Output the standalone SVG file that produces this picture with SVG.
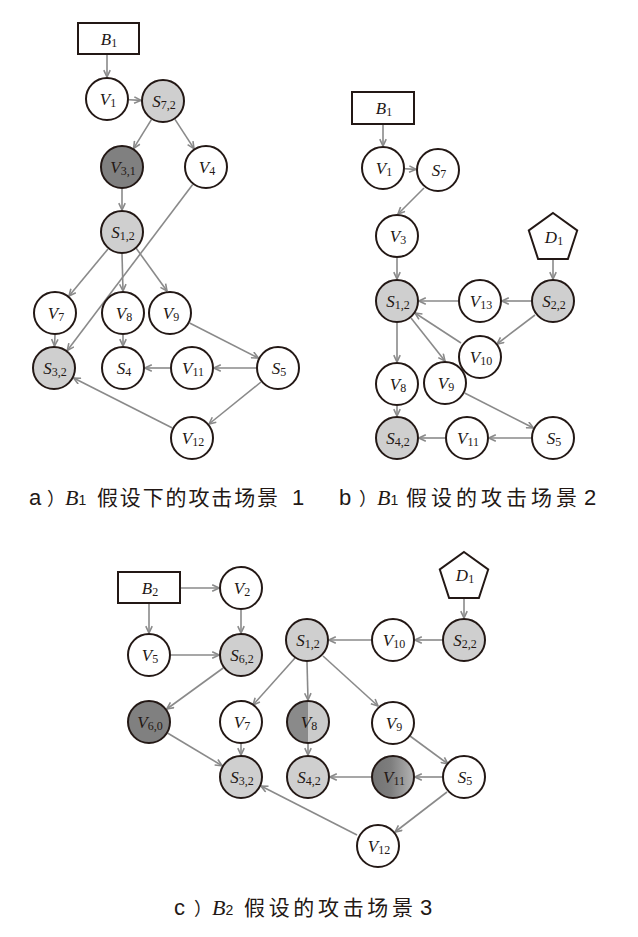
<svg xmlns="http://www.w3.org/2000/svg" width="638" height="937" viewBox="0 0 638 937">
<defs>
<style>
.n{fill:#fff;stroke:#231815;stroke-width:2}
.lt{fill:#cfcfcf}
.dk{fill:#808080}
.box{fill:#fff;stroke:#231815;stroke-width:2}
.lbl{font-family:"Liberation Serif","DejaVu Serif",serif;font-style:italic;font-size:17px;fill:#231815;text-anchor:middle}
.sub{font-style:normal;font-size:12px}
.e line{stroke:#8a8a8a;stroke-width:1.6;fill:none;marker-end:url(#ah)}
.cap{font-family:"Liberation Sans","Noto Sans CJK SC",sans-serif;font-size:22px;fill:#231815}
.capP{font-family:"Noto Sans CJK SC",sans-serif;font-size:18px}
.capB{font-family:"Liberation Serif",serif;font-style:italic;font-size:22px}
.capS{font-size:14px}
.capC{font-family:"Noto Sans CJK SC",sans-serif;font-size:21px;font-weight:400}
</style>
<marker id="ah" viewBox="0 0 10 10" refX="9.5" refY="5" markerWidth="8" markerHeight="8" markerUnits="userSpaceOnUse" orient="auto">
<path d="M1,1 L9.5,5 L1,9" fill="none" stroke="#8a8a8a" stroke-width="2"/>
</marker>
<linearGradient id="half" x1="0" y1="0" x2="1" y2="0">
<stop offset="0" stop-color="#8a8a8a"/><stop offset="0.5" stop-color="#8a8a8a"/><stop offset="0.5" stop-color="#cbcbcb"/><stop offset="1" stop-color="#cbcbcb"/>
</linearGradient>
<linearGradient id="grad" x1="0" y1="0" x2="1" y2="0">
<stop offset="0" stop-color="#737373"/><stop offset="0.45" stop-color="#7e7e7e"/><stop offset="1" stop-color="#b4b4b4"/>
</linearGradient>
</defs>
<rect width="638" height="937" fill="#fff"/>

<!-- connectors -->
<g id="connectors" class="e">
<!-- a -->
<line x1="107" y1="55" x2="107" y2="77"/>
<line x1="129" y1="99.8" x2="141" y2="100.4"/>
<line x1="151.4" y1="119.7" x2="133.6" y2="148.3"/>
<line x1="175" y1="119.4" x2="194" y2="148.6"/>
<line x1="122" y1="189" x2="122" y2="210"/>
<line x1="192.7" y1="184.6" x2="67.3" y2="350.4"/>
<line x1="108" y1="249" x2="69" y2="296"/>
<line x1="122" y1="254" x2="123" y2="291"/>
<line x1="136" y1="248" x2="167" y2="291"/>
<line x1="55" y1="335" x2="54.5" y2="346"/>
<line x1="123" y1="335" x2="123" y2="346"/>
<line x1="189.6" y1="323" x2="258.4" y2="358"/>
<line x1="256" y1="368" x2="214" y2="368"/>
<line x1="170" y1="368" x2="145" y2="368"/>
<line x1="261" y1="382" x2="209" y2="424"/>
<line x1="172.4" y1="428" x2="73.6" y2="378"/>
<!-- b -->
<line x1="383" y1="124" x2="383" y2="146"/>
<line x1="405" y1="168.8" x2="416" y2="169.4"/>
<line x1="424" y1="188" x2="398" y2="214"/>
<line x1="397" y1="258" x2="397" y2="279"/>
<line x1="553" y1="259" x2="553" y2="279"/>
<line x1="531" y1="301" x2="502" y2="301"/>
<line x1="458" y1="301" x2="419" y2="301"/>
<line x1="535" y1="315" x2="497" y2="344"/>
<line x1="461" y1="343" x2="415" y2="313"/>
<line x1="411" y1="318" x2="445" y2="361"/>
<line x1="397" y1="323" x2="397" y2="362"/>
<line x1="397" y1="406" x2="397" y2="416"/>
<line x1="464.6" y1="393" x2="533.4" y2="428"/>
<line x1="531" y1="438" x2="489" y2="438"/>
<line x1="445" y1="438" x2="419" y2="438"/>
<!-- c -->
<line x1="180" y1="588" x2="219" y2="588"/>
<line x1="149" y1="603" x2="149" y2="633"/>
<line x1="241" y1="610" x2="241" y2="633"/>
<line x1="171" y1="655" x2="219" y2="655"/>
<line x1="223.2" y1="668" x2="166.8" y2="709"/>
<line x1="167.9" y1="733.3" x2="222.1" y2="765.7"/>
<line x1="464" y1="598" x2="464" y2="618"/>
<line x1="442" y1="640" x2="415" y2="640"/>
<line x1="371" y1="640" x2="329" y2="640"/>
<line x1="295" y1="658" x2="253" y2="705"/>
<line x1="307" y1="662" x2="308" y2="700"/>
<line x1="323" y1="656" x2="378" y2="706"/>
<line x1="241" y1="744" x2="241" y2="755"/>
<line x1="308" y1="744" x2="308" y2="755"/>
<line x1="410" y1="736" x2="448" y2="764"/>
<line x1="442" y1="777" x2="415" y2="777"/>
<line x1="371" y1="777" x2="330" y2="777"/>
<line x1="447" y1="792" x2="395" y2="832"/>
<line x1="357" y1="835" x2="261" y2="786"/>
</g>

<!-- part a nodes -->
<g id="a-B1"><rect class="box" x="78" y="23" width="61" height="31"/><text class="lbl" x="109" y="44.5">B<tspan class="sub" dy="2">1</tspan></text></g>
<g id="a-V1"><circle class="n" cx="107" cy="99" r="21"/><text class="lbl" x="108" y="105">V<tspan class="sub" dy="2">1</tspan></text></g>
<g id="a-S72"><circle class="n lt" cx="163" cy="101" r="21"/><text class="lbl" x="164" y="107">S<tspan class="sub" dy="2">7,2</tspan></text></g>
<g id="a-V31"><circle class="n dk" cx="122" cy="167" r="21"/><text class="lbl" x="123" y="173">V<tspan class="sub" dy="2">3,1</tspan></text></g>
<g id="a-V4"><circle class="n" cx="206" cy="167" r="21"/><text class="lbl" x="207" y="173">V<tspan class="sub" dy="2">4</tspan></text></g>
<g id="a-S12"><circle class="n lt" cx="122" cy="232" r="21"/><text class="lbl" x="123" y="238">S<tspan class="sub" dy="2">1,2</tspan></text></g>
<g id="a-V7"><circle class="n" cx="55" cy="313" r="21"/><text class="lbl" x="56" y="319">V<tspan class="sub" dy="2">7</tspan></text></g>
<g id="a-V8"><circle class="n" cx="123" cy="313" r="21"/><text class="lbl" x="124" y="319">V<tspan class="sub" dy="2">8</tspan></text></g>
<g id="a-V9"><circle class="n" cx="170" cy="313" r="21"/><text class="lbl" x="171" y="319">V<tspan class="sub" dy="2">9</tspan></text></g>
<g id="a-S32"><circle class="n lt" cx="54" cy="368" r="21"/><text class="lbl" x="55" y="374">S<tspan class="sub" dy="2">3,2</tspan></text></g>
<g id="a-S4"><circle class="n" cx="123" cy="368" r="21"/><text class="lbl" x="124" y="374">S<tspan class="sub" dy="2">4</tspan></text></g>
<g id="a-V11"><circle class="n" cx="192" cy="368" r="21"/><text class="lbl" x="193" y="374">V<tspan class="sub" dy="2">11</tspan></text></g>
<g id="a-S5"><circle class="n" cx="278" cy="368" r="21"/><text class="lbl" x="279" y="374">S<tspan class="sub" dy="2">5</tspan></text></g>
<g id="a-V12"><circle class="n" cx="192" cy="438" r="21"/><text class="lbl" x="193" y="444">V<tspan class="sub" dy="2">12</tspan></text></g>

<!-- part b nodes -->
<g id="b-B1"><rect class="box" x="352" y="92" width="62" height="32"/><text class="lbl" x="384" y="114">B<tspan class="sub" dy="2">1</tspan></text></g>
<g id="b-V1"><circle class="n" cx="383" cy="168" r="21"/><text class="lbl" x="384" y="174">V<tspan class="sub" dy="2">1</tspan></text></g>
<g id="b-S7"><circle class="n" cx="438" cy="170" r="21"/><text class="lbl" x="439" y="176">S<tspan class="sub" dy="2">7</tspan></text></g>
<g id="b-V3"><circle class="n" cx="397" cy="236" r="21"/><text class="lbl" x="398" y="242">V<tspan class="sub" dy="2">3</tspan></text></g>
<g id="b-D1"><polygon class="n" points="553,213 577.2,230.5 567.9,259 538.1,259 528.8,230.5"/><text class="lbl" x="554" y="243">D<tspan class="sub" dy="2">1</tspan></text></g>
<g id="b-S12"><circle class="n lt" cx="397" cy="301" r="21"/><text class="lbl" x="398" y="307">S<tspan class="sub" dy="2">1,2</tspan></text></g>
<g id="b-V13"><circle class="n" cx="480" cy="301" r="21"/><text class="lbl" x="481" y="307">V<tspan class="sub" dy="2">13</tspan></text></g>
<g id="b-S22"><circle class="n lt" cx="553" cy="301" r="21"/><text class="lbl" x="554" y="307">S<tspan class="sub" dy="2">2,2</tspan></text></g>
<g id="b-V10"><circle class="n" cx="480" cy="357" r="21"/><text class="lbl" x="481" y="363">V<tspan class="sub" dy="2">10</tspan></text></g>
<g id="b-V8"><circle class="n" cx="397" cy="384" r="21"/><text class="lbl" x="398" y="390">V<tspan class="sub" dy="2">8</tspan></text></g>
<g id="b-V9"><circle class="n" cx="445" cy="383" r="21"/><text class="lbl" x="446" y="389">V<tspan class="sub" dy="2">9</tspan></text></g>
<g id="b-S42"><circle class="n lt" cx="397" cy="438" r="21"/><text class="lbl" x="398" y="444">S<tspan class="sub" dy="2">4,2</tspan></text></g>
<g id="b-V11"><circle class="n" cx="467" cy="438" r="21"/><text class="lbl" x="468" y="444">V<tspan class="sub" dy="2">11</tspan></text></g>
<g id="b-S5"><circle class="n" cx="553" cy="438" r="21"/><text class="lbl" x="554" y="444">S<tspan class="sub" dy="2">5</tspan></text></g>

<!-- part c nodes -->
<g id="c-B2"><rect class="box" x="118" y="572" width="62" height="31"/><text class="lbl" x="150" y="593.5">B<tspan class="sub" dy="2">2</tspan></text></g>
<g id="c-V2"><circle class="n" cx="241" cy="588" r="21"/><text class="lbl" x="242" y="594">V<tspan class="sub" dy="2">2</tspan></text></g>
<g id="c-V5"><circle class="n" cx="149" cy="655" r="21"/><text class="lbl" x="150" y="661">V<tspan class="sub" dy="2">5</tspan></text></g>
<g id="c-S62"><circle class="n lt" cx="241" cy="655" r="21"/><text class="lbl" x="242" y="661">S<tspan class="sub" dy="2">6,2</tspan></text></g>
<g id="c-S12"><circle class="n lt" cx="307" cy="640" r="21"/><text class="lbl" x="308" y="646">S<tspan class="sub" dy="2">1,2</tspan></text></g>
<g id="c-D1"><polygon class="n" points="464,552 488.2,569.5 478.9,598 449.1,598 439.8,569.5"/><text class="lbl" x="465" y="581">D<tspan class="sub" dy="2">1</tspan></text></g>
<g id="c-V10"><circle class="n" cx="393" cy="640" r="21"/><text class="lbl" x="394" y="646">V<tspan class="sub" dy="2">10</tspan></text></g>
<g id="c-S22"><circle class="n lt" cx="464" cy="640" r="21"/><text class="lbl" x="465" y="646">S<tspan class="sub" dy="2">2,2</tspan></text></g>
<g id="c-V60"><circle class="n dk" cx="149" cy="722" r="21"/><text class="lbl" x="150" y="728">V<tspan class="sub" dy="2">6,0</tspan></text></g>
<g id="c-V7"><circle class="n" cx="241" cy="722" r="21"/><text class="lbl" x="242" y="728">V<tspan class="sub" dy="2">7</tspan></text></g>
<g id="c-V8"><circle class="n" cx="308" cy="722" r="21" style="fill:url(#half)"/><text class="lbl" x="309" y="728">V<tspan class="sub" dy="2">8</tspan></text></g>
<g id="c-V9"><circle class="n" cx="393" cy="723" r="21"/><text class="lbl" x="394" y="729">V<tspan class="sub" dy="2">9</tspan></text></g>
<g id="c-S32"><circle class="n lt" cx="241" cy="777" r="21"/><text class="lbl" x="242" y="783">S<tspan class="sub" dy="2">3,2</tspan></text></g>
<g id="c-S42"><circle class="n lt" cx="308" cy="777" r="21"/><text class="lbl" x="309" y="783">S<tspan class="sub" dy="2">4,2</tspan></text></g>
<g id="c-V11"><circle class="n" cx="393" cy="777" r="21" style="fill:url(#grad)"/><text class="lbl" x="394" y="783">V<tspan class="sub" dy="2">11</tspan></text></g>
<g id="c-S5"><circle class="n" cx="464" cy="777" r="21"/><text class="lbl" x="465" y="783">S<tspan class="sub" dy="2">5</tspan></text></g>
<g id="c-V12"><circle class="n" cx="378" cy="846" r="21"/><text class="lbl" x="379" y="852">V<tspan class="sub" dy="2">12</tspan></text></g>

<!-- captions -->
<text class="cap" y="505"><tspan x="29">a</tspan><tspan x="47" class="capP">）</tspan><tspan x="65" class="capB">B</tspan><tspan class="capS">1</tspan> <tspan x="97" class="capC" textLength="181" lengthAdjust="spacing">假设下的攻击场景</tspan> <tspan x="292">1</tspan></text>
<text class="cap" y="505"><tspan x="339">b</tspan><tspan x="359" class="capP">）</tspan><tspan x="377" class="capB">B</tspan><tspan class="capS">1</tspan> <tspan x="406" class="capC" textLength="171" lengthAdjust="spacing">假设的攻击场景</tspan> <tspan x="584">2</tspan></text>
<text class="cap" y="915"><tspan x="174">c</tspan><tspan x="194" class="capP">）</tspan><tspan x="212" class="capB">B</tspan><tspan class="capS">2</tspan> <tspan x="244" class="capC" textLength="169" lengthAdjust="spacing">假设的攻击场景</tspan> <tspan x="420">3</tspan></text>
</svg>
